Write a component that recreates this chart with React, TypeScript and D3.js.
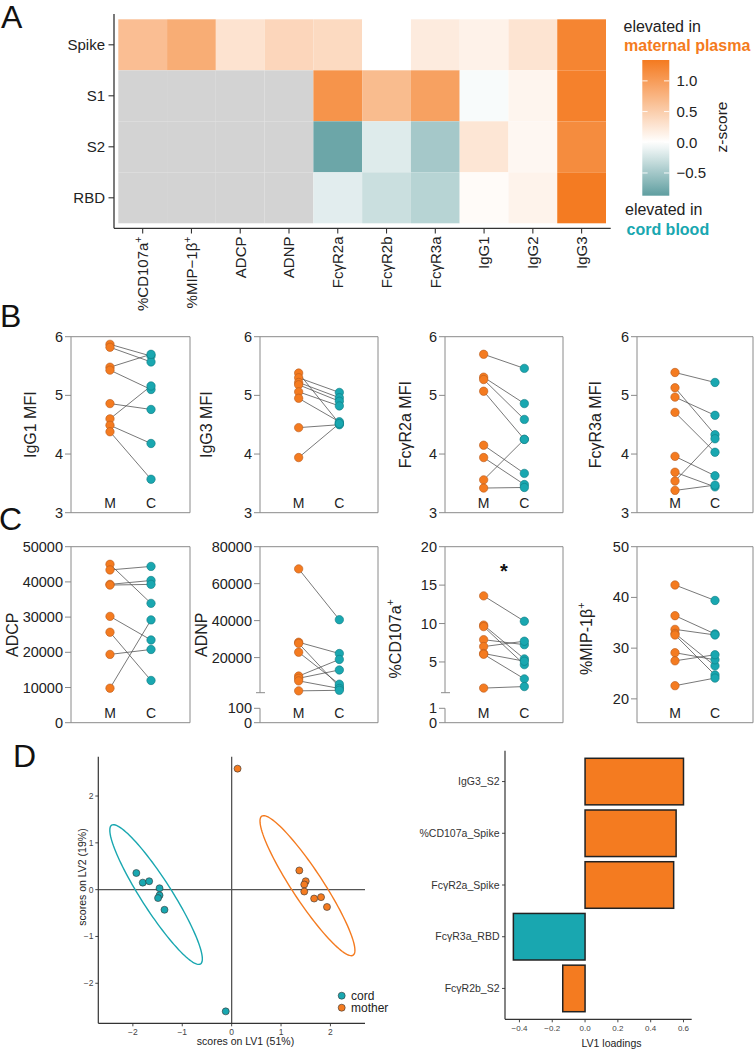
import React from 'react';
import * as d3 from 'd3';

const FONT = "'Liberation Sans', Arial, Helvetica, sans-serif";
const ORANGE = '#F47B20';
const TEAL = '#19A7B0';
const ORANGE_STROKE = '#B85A1C';
const TEAL_STROKE = '#0F7A82';
const HEAT_LOW = '#5F9EA0';
const HEAT_HIGH = '#F47A20';
const NA_GREY = '#D3D3D3';

// ---------- Panel A: heatmap ----------
const heatRows = ['Spike', 'S1', 'S2', 'RBD'];
const heatCols = ['%CD107a+', '%MIP−1β+', 'ADCP', 'ADNP', 'FcγR2a', 'FcγR2b', 'FcγR3a', 'IgG1', 'IgG2', 'IgG3'];
const zSpike: (number | null)[] = [0.65, 0.83, 0.28, 0.41, 0.37, 0.0, 0.2, 0.13, 0.27, 1.23];
const zS1: (number | null)[] = [null, null, null, null, 1.08, 0.68, 0.95, -0.04, 0.1, 1.27];
const zS2: (number | null)[] = [null, null, null, null, -0.8, -0.18, -0.49, 0.25, 0.08, 1.16];
const zRBD: (number | null)[] = [null, null, null, null, -0.16, -0.29, -0.39, 0.04, 0.12, 1.33];
const zTicks = [-0.5, 0, 0.5, 1.0];
const zLimits: [number, number] = [-0.87, 1.34];

// ---------- Panel B / C: paired plots ----------
const groups = ['M', 'C'];
const mfiTicks = [3, 4, 5, 6];
const igg1M = [5.87, 5.82, 5.48, 5.43, 4.86, 4.6, 4.49, 4.38];
const igg1C = [5.67, 5.57, 5.7, 5.1, 4.76, 5.16, 4.18, 3.57];
const igg3M = [5.38, 5.3, 5.22, 5.18, 5.06, 4.95, 4.45, 3.94];
const igg3C = [4.52, 5.05, 4.96, 4.9, 4.82, 4.55, 4.5, 4.52];
const fcr2aM = [5.7, 5.31, 5.27, 5.07, 4.15, 3.94, 3.56, 3.42];
const fcr2aC = [5.46, 4.86, 4.59, 4.25, 3.67, 3.48, 4.25, 3.43];
const fcr3aM = [5.39, 5.13, 4.97, 4.71, 3.96, 3.69, 3.54, 3.38];
const fcr3aC = [5.22, 4.33, 4.66, 4.03, 3.63, 3.44, 4.26, 3.47];

const adcpTicks = [0, 10000, 20000, 30000, 40000, 50000];
const adcpM = [45000, 43400, 39300, 39100, 30200, 25700, 19400, 9800];
const adcpC = [33900, 44400, 40400, 39300, 23500, 12000, 20800, 29200];
const adnpTicks = [20000, 40000, 60000, 80000];
const adnpLowTicks = [0, 100];
const adnpM = [68000, 28300, 27700, 22900, 10000, 8800, 7400, 2000];
const adnpC = [40500, 22200, 4100, 5600, 19000, 13300, 3300, 2300];
const cd107Ticks = [5, 10, 15, 20];
const cd107LowTicks = [0, 1];
const cd107M = [13.6, 9.8, 9.6, 7.9, 7.0, 6.1, 6.0, 1.6];
const cd107C = [10.3, 5.4, 4.65, 7.25, 7.7, 5.1, 2.8, 1.8];
const mipTicks = [20, 30, 40, 50];
const mipM = [42.45, 36.4, 33.7, 32.9, 32.6, 29.1, 27.5, 22.6];
const mipC = [39.4, 32.8, 32.6, 26.5, 24.7, 27.7, 28.7, 24.1];

// ---------- Panel D ----------
const pcaTicks = [-2, -1, 0, 1, 2];
const cordX = [-1.93, -1.8, -1.67, -1.46, -1.46, -1.49, -1.36, -0.12];
const cordY = [0.355, 0.15, 0.18, 0.03, -0.12, -0.18, -0.43, -2.6];
const motherX = [0.12, 1.37, 1.5, 1.47, 1.47, 1.67, 1.81, 1.93];
const motherY = [2.585, 0.41, 0.18, 0.11, -0.04, -0.19, -0.16, -0.37];
const cordEllipse = { cx: -1.53, cy: -0.105, tx: -2.43, ty: 1.377, ratio: 0.185 };
const motherEllipse = { cx: 1.535, cy: 0.085, tx: 0.61, ty: 1.57, ratio: 0.185 };
const legendLabels = ['cord', 'mother'];

const loadLabels = ['IgG3_S2', '%CD107a_Spike', 'FcγR2a_Spike', 'FcγR3a_RBD', 'FcγR2b_S2'];
const loadValues = [0.6, 0.555, 0.54, -0.437, -0.136];
const loadGroups = ['mother', 'mother', 'mother', 'cord', 'mother'];
const loadTicks = [-0.4, -0.2, 0, 0.2, 0.4, 0.6];

const minusFmt = (v: number, d = 0) => (v < 0 ? '−' : '') + Math.abs(v).toFixed(d);

function splitSup(label: string) {
  if (label.startsWith('%') && label.endsWith('+')) return { main: label.slice(0, -1), sup: '+' };
  return { main: label, sup: '' };
}

function Heatmap() {
  const x = d3.scaleBand<string>().domain(heatCols).range([118.3, 606]);
  const y = d3.scaleBand<string>().domain(heatRows).range([19.3, 223.3]);
  const rows = [zSpike, zS1, zS2, zRBD];
  const color = d3
    .scaleLinear<string>()
    .domain([zLimits[0], 0, zLimits[1]])
    .range([HEAT_LOW, '#ffffff', HEAT_HIGH])
    .clamp(true);
  const barY = d3.scaleLinear().domain(zLimits).range([195.7, 60]);
  const stops = d3.range(0, 21).map((i) => {
    const v = zLimits[0] + ((zLimits[1] - zLimits[0]) * i) / 20;
    return { off: i / 20, c: color(v) };
  });
  const axisCol = '#333';
  return (
    <g>
      <defs>
        <linearGradient id="zgrad" x1="0" y1="1" x2="0" y2="0">
          {stops.map((s, i) => (
            <stop key={i} offset={s.off} stopColor={s.c} />
          ))}
        </linearGradient>
      </defs>
      {rows.map((r, ri) =>
        r.map((v, ci) => (
          <rect
            key={`${ri}-${ci}`}
            x={x(heatCols[ci])}
            y={y(heatRows[ri])}
            width={x.bandwidth()}
            height={y.bandwidth()}
            fill={v === null ? NA_GREY : color(v)}
          />
        ))
      )}
      <line x1={114} x2={114} y1={14} y2={228.3} stroke={axisCol} strokeWidth={1.3} />
      <line x1={114} x2={610.7} y1={228.3} y2={228.3} stroke={axisCol} strokeWidth={1.3} />
      {heatRows.map((r) => {
        const cy = y(r)! + y.bandwidth() / 2;
        return (
          <g key={r}>
            <line x1={108.5} x2={114} y1={cy} y2={cy} stroke={axisCol} strokeWidth={1.1} />
            <text x={105} y={cy} dy="0.35em" textAnchor="end" fontSize={15} fill="#222">
              {r}
            </text>
          </g>
        );
      })}
      {heatCols.map((c) => {
        const cx = x(c)! + x.bandwidth() / 2;
        const { main, sup } = splitSup(c);
        return (
          <g key={c}>
            <line x1={cx} x2={cx} y1={228.3} y2={233.5} stroke={axisCol} strokeWidth={1.1} />
            <text transform={`translate(${cx + 5.4},236.5) rotate(-90)`} textAnchor="end" fontSize={15} fill="#222">
              <tspan>{main}</tspan>
              {sup && (
                <tspan dy={-6} fontSize={10.5}>
                  {sup}
                </tspan>
              )}
            </text>
          </g>
        );
      })}
      {/* colour bar */}
      <rect x={642.3} y={60} width={27} height={135.7} fill="url(#zgrad)" />
      {zTicks.map((t) => (
        <g key={t}>
          <line x1={642.3} x2={647.6} y1={barY(t)} y2={barY(t)} stroke="#fff" strokeWidth={0.9} />
          <line x1={664} x2={669.3} y1={barY(t)} y2={barY(t)} stroke="#fff" strokeWidth={0.9} />
          <text x={676.5} y={barY(t)} dy="0.35em" fontSize={15} fill="#222">
            {minusFmt(t, 1)}
          </text>
        </g>
      ))}
      <text transform="translate(727,127) rotate(-90)" textAnchor="middle" fontSize={15.5} fill="#222">
        z-score
      </text>
      <text x={623.5} y={31.7} fontSize={16} fill="#222">
        elevated in
      </text>
      <text x={624} y={51} fontSize={16} fontWeight="bold" fill={ORANGE}>
        maternal plasma
      </text>
      <text x={625} y={215} fontSize={16} fill="#222">
        elevated in
      </text>
      <text x={626.5} y={235} fontSize={16} fontWeight="bold" fill={TEAL}>
        cord blood
      </text>
    </g>
  );
}

type LowAxis = { breakY: number; lowTop: number; domain: [number, number]; ticks: number[] };
type PairProps = {
  left: number;
  width: number;
  top: number;
  bottom: number;
  domain: [number, number];
  ticks: number[];
  low?: LowAxis;
  mVals: number[];
  cVals: number[];
  title: string;
  titleX: number;
  star?: boolean;
};

function PairPlot(p: PairProps) {
  const right = p.left + p.width;
  const x = d3.scalePoint<string>().domain(groups).range([p.left, right]).padding(0.95);
  const upperBottom = p.low ? p.low.breakY : p.bottom;
  const y = d3.scaleLinear().domain(p.domain).range([upperBottom, p.top]);
  const yLow = p.low ? d3.scaleLinear().domain(p.low.domain).range([p.bottom, p.low.lowTop]) : null;
  const axisCol = '#8a8a8a';
  const xm = x('M')!;
  const xc = x('C')!;
  const { main, sup } = splitSup(p.title);
  const cy = (p.top + p.bottom) / 2 + (sup ? 4 : 0);
  const tickLabel = (v: number, yy: number) => (
    <g key={`t${v}-${yy}`}>
      <line x1={p.left - 6} x2={p.left} y1={yy} y2={yy} stroke={axisCol} strokeWidth={1} />
      <text x={p.left - 8} y={yy} dy="0.35em" textAnchor="end" fontSize={14.5} fill="#222">
        {String(v)}
      </text>
    </g>
  );
  return (
    <g>
      <line x1={p.left} x2={right} y1={p.top} y2={p.top} stroke={axisCol} strokeWidth={1} />
      <line x1={right} x2={right} y1={p.top} y2={p.bottom} stroke={axisCol} strokeWidth={1} />
      <line x1={p.left} x2={right} y1={p.bottom} y2={p.bottom} stroke={axisCol} strokeWidth={1} />
      <line x1={p.left} x2={p.left} y1={p.top} y2={upperBottom} stroke={axisCol} strokeWidth={1} />
      {p.low && (
        <>
          <line x1={p.left} x2={p.left} y1={p.low.lowTop} y2={p.bottom} stroke={axisCol} strokeWidth={1} />
          <line x1={p.left - 4} x2={p.left + 5} y1={p.low.breakY} y2={p.low.breakY} stroke={axisCol} strokeWidth={1} />
        </>
      )}
      {p.ticks.map((t) => tickLabel(t, y(t)))}
      {p.low && yLow && p.low.ticks.map((t) => tickLabel(t, yLow(t)))}
      {p.mVals.map((m, i) => (
        <line key={`l${i}`} x1={xm} x2={xc} y1={y(m)} y2={y(p.cVals[i])} stroke="#555" strokeWidth={0.8} />
      ))}
      {p.mVals.map((m, i) => (
        <circle key={`m${i}`} cx={xm} cy={y(m)} r={4.2} fill={ORANGE} stroke={ORANGE_STROKE} strokeWidth={0.6} />
      ))}
      {p.cVals.map((c, i) => (
        <circle key={`c${i}`} cx={xc} cy={y(c)} r={4.2} fill={TEAL} stroke={TEAL_STROKE} strokeWidth={0.6} />
      ))}
      {groups.map((g) => (
        <text key={g} x={x(g)} y={p.bottom - 4.5} textAnchor="middle" fontSize={14} fill="#222">
          {g}
        </text>
      ))}
      <text transform={`translate(${p.titleX + 5.5},${cy}) rotate(-90)`} textAnchor="middle" fontSize={16} fill="#222">
        <tspan>{main}</tspan>
        {sup && (
          <tspan dy={-7} fontSize={11}>
            {sup}
          </tspan>
        )}
      </text>
      {p.star && (
        <text x={(p.left + right) / 2} y={577.5} textAnchor="middle" fontSize={20} fontWeight="bold" fill="#111">
          *
        </text>
      )}
    </g>
  );
}

function Scores() {
  const x = d3.scaleLinear().domain([-2.7, 2.7]).range([98.3, 365]);
  const y = d3.scaleLinear().domain([-2.855, 2.84]).range([1023.3, 756.7]);
  const ellipsePath = (e: typeof cordEllipse) => {
    const c = [x(e.cx), y(e.cy)];
    const u = [x(e.tx) - c[0], y(e.ty) - c[1]];
    const n = [-u[1] * e.ratio, u[0] * e.ratio];
    const pts = d3.range(0, 121).map((i) => {
      const t = (i / 120) * Math.PI * 2;
      return [c[0] + Math.cos(t) * u[0] + Math.sin(t) * n[0], c[1] + Math.cos(t) * u[1] + Math.sin(t) * n[1]] as [number, number];
    });
    return d3.line()(pts) + 'Z';
  };
  const axisCol = '#333';
  return (
    <g>
      <line x1={x(0)} x2={x(0)} y1={756.7} y2={1023.3} stroke="#555" strokeWidth={1.3} />
      <line x1={98.3} x2={365} y1={y(0)} y2={y(0)} stroke="#555" strokeWidth={1.3} />
      <line x1={98.3} x2={98.3} y1={756.7} y2={1023.3} stroke={axisCol} strokeWidth={1.2} />
      <line x1={98.3} x2={365} y1={1023.3} y2={1023.3} stroke={axisCol} strokeWidth={1.2} />
      {pcaTicks.map((t) => (
        <g key={`x${t}`}>
          <line x1={x(t)} x2={x(t)} y1={1023.3} y2={1026.3} stroke={axisCol} strokeWidth={0.9} />
          <text x={x(t)} y={1035} textAnchor="middle" fontSize={8.5} fill="#444">
            {minusFmt(t)}
          </text>
        </g>
      ))}
      {pcaTicks.map((t) => (
        <g key={`y${t}`}>
          <line x1={95.3} x2={98.3} y1={y(t)} y2={y(t)} stroke={axisCol} strokeWidth={0.9} />
          <text x={93.5} y={y(t)} dy="0.35em" textAnchor="end" fontSize={8.5} fill="#444">
            {minusFmt(t)}
          </text>
        </g>
      ))}
      <path d={ellipsePath(cordEllipse)} fill="none" stroke={TEAL} strokeWidth={1.4} />
      <path d={ellipsePath(motherEllipse)} fill="none" stroke={ORANGE} strokeWidth={1.4} />
      {cordX.map((v, i) => (
        <circle key={`cd${i}`} cx={x(v)} cy={y(cordY[i])} r={3.5} fill={TEAL} stroke="#333" strokeWidth={0.6} />
      ))}
      {motherX.map((v, i) => (
        <circle key={`mo${i}`} cx={x(v)} cy={y(motherY[i])} r={3.5} fill={ORANGE} stroke="#333" strokeWidth={0.6} />
      ))}
      <text x={245.5} y={1045} textAnchor="middle" fontSize={10.5} fill="#222">
        scores on LV1 (51%)
      </text>
      <text transform="translate(85.5,877) rotate(-90)" textAnchor="middle" fontSize={10.5} fill="#222">
        scores on LV2 (19%)
      </text>
      {legendLabels.map((l, i) => (
        <g key={l}>
          <circle cx={341.7} cy={995.7 + i * 12} r={3.5} fill={i === 0 ? TEAL : ORANGE} stroke="#333" strokeWidth={0.6} />
          <text x={351} y={995.7 + i * 12} dy="0.35em" fontSize={12} fill="#222">
            {l}
          </text>
        </g>
      ))}
    </g>
  );
}

function Loadings() {
  const y = d3.scaleBand<string>().domain(loadLabels).range([755.7, 1014.3]).paddingInner(0.1).paddingOuter(0.05);
  const x = d3.scaleLinear().domain([-0.488, 0.65]).range([505, 691.7]);
  const axisCol = '#333';
  return (
    <g>
      {loadLabels.map((l, i) => {
        const v = loadValues[i];
        return (
          <rect
            key={l}
            x={x(Math.min(0, v))}
            y={y(l)}
            width={Math.abs(x(v) - x(0))}
            height={y.bandwidth()}
            fill={loadGroups[i] === 'cord' ? TEAL : ORANGE}
            stroke="#222"
            strokeWidth={1.5}
          />
        );
      })}
      <line x1={505} x2={505} y1={750.7} y2={1019.3} stroke={axisCol} strokeWidth={1.2} />
      <line x1={505} x2={691.7} y1={1019.3} y2={1019.3} stroke={axisCol} strokeWidth={1.2} />
      {loadLabels.map((l) => {
        const cy = y(l)! + y.bandwidth() / 2;
        return (
          <g key={l}>
            <line x1={502} x2={505} y1={cy} y2={cy} stroke={axisCol} strokeWidth={0.9} />
            <text x={499.5} y={cy} dy="0.35em" textAnchor="end" fontSize={10.5} fill="#333">
              {l}
            </text>
          </g>
        );
      })}
      {loadTicks.map((t) => (
        <g key={t}>
          <line x1={x(t)} x2={x(t)} y1={1019.3} y2={1022.3} stroke={axisCol} strokeWidth={0.9} />
          <text x={x(t)} y={1030.5} textAnchor="middle" fontSize={8} fill="#444">
            {minusFmt(t, 1)}
          </text>
        </g>
      ))}
      <text x={611.5} y={1046.5} textAnchor="middle" fontSize={10.5} fill="#222">
        LV1 loadings
      </text>
    </g>
  );
}

export default function App() {
  const bTop = 336.7;
  const bBottom = 512.7;
  const cTop = 546.7;
  const cBottom = 722.7;
  const lefts = [71, 260, 445, 637];
  const widths = [119, 118, 118, 116];
  return (
    <svg
      width={756}
      height={1050}
      style={{ position: 'absolute', left: 0, top: 0, display: 'block' }}
      fontFamily={FONT}
    >
      <rect width={756} height={1050} fill="#fff" />
      <Heatmap />
      <PairPlot left={lefts[0]} width={widths[0]} top={bTop} bottom={bBottom} domain={[3, 6]} ticks={mfiTicks} mVals={igg1M} cVals={igg1C} title="IgG1 MFI" titleX={30.7} />
      <PairPlot left={lefts[1]} width={widths[1]} top={bTop} bottom={bBottom} domain={[3, 6]} ticks={mfiTicks} mVals={igg3M} cVals={igg3C} title="IgG3 MFI" titleX={206.7} />
      <PairPlot left={lefts[2]} width={widths[2]} top={bTop} bottom={bBottom} domain={[3, 6]} ticks={mfiTicks} mVals={fcr2aM} cVals={fcr2aC} title="FcγR2a MFI" titleX={405} />
      <PairPlot left={lefts[3]} width={widths[3]} top={bTop} bottom={bBottom} domain={[3, 6]} ticks={mfiTicks} mVals={fcr3aM} cVals={fcr3aC} title="FcγR3a MFI" titleX={595} />
      <PairPlot left={lefts[0]} width={widths[0]} top={cTop} bottom={cBottom} domain={[0, 50000]} ticks={adcpTicks} mVals={adcpM} cVals={adcpC} title="ADCP" titleX={12.5} />
      <PairPlot
        left={lefts[1]}
        width={widths[1]}
        top={cTop}
        bottom={cBottom}
        domain={[1000, 80000]}
        ticks={adnpTicks}
        low={{ breakY: 692.7, lowTop: 708.3, domain: [0, 100], ticks: adnpLowTicks }}
        mVals={adnpM}
        cVals={adnpC}
        title="ADNP"
        titleX={201.7}
      />
      <PairPlot
        left={lefts[2]}
        width={widths[2]}
        top={cTop}
        bottom={cBottom}
        domain={[1, 20]}
        ticks={cd107Ticks}
        low={{ breakY: 692.7, lowTop: 708.3, domain: [0, 1], ticks: cd107LowTicks }}
        mVals={cd107M}
        cVals={cd107C}
        title="%CD107a+"
        titleX={395}
        star
      />
      <PairPlot left={lefts[3]} width={widths[3]} top={cTop} bottom={cBottom} domain={[15.3, 50]} ticks={mipTicks} mVals={mipM} cVals={mipC} title="%MIP-1β+" titleX={586.7} />
      <Scores />
      <Loadings />
      <text x={1} y={28} fontSize={32} fill="#111">A</text>
      <text x={0} y={327} fontSize={32} fill="#111">B</text>
      <text x={-1} y={530} fontSize={32} fill="#111">C</text>
      <text x={13} y={767} fontSize={32} fill="#111">D</text>
    </svg>
  );
}
